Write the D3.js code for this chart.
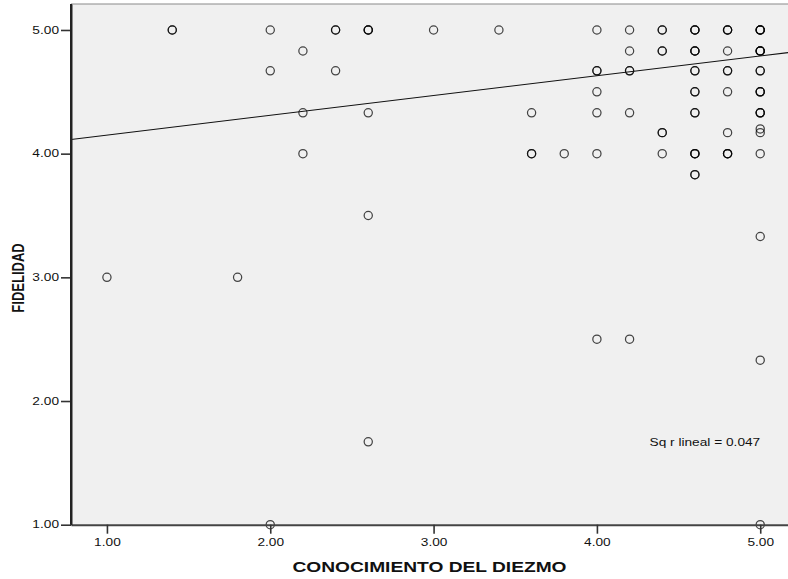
<!DOCTYPE html>
<html>
<head>
<meta charset="utf-8">
<script src="https://cdn.jsdelivr.net/npm/d3@7"></script>
<style>
  html, body { margin: 0; padding: 0; background: #ffffff; }
  svg { display: block; }
  text { font-family: "Liberation Sans", Arial, sans-serif; fill: #111; }
</style>
</head>
<body>
<svg id="chart" width="788" height="579"></svg>
<script>
// ---- data ----
// x: CONOCIMIENTO DEL DIEZMO, y: FIDELIDAD, count: overlapping cases at that point
const conocimiento = [1.0, 1.4, 1.8, 2.0, 2.0, 2.0, 2.2, 2.2, 2.2, 2.4, 2.4,
  2.6, 2.6, 2.6, 2.6, 3.0, 3.4, 3.6, 3.6, 3.8,
  4.0, 4.0, 4.0, 4.0, 4.0, 4.0,
  4.2, 4.2, 4.2, 4.2, 4.2,
  4.4, 4.4, 4.4, 4.4,
  4.6, 4.6, 4.6, 4.6, 4.6, 4.6, 4.6,
  4.8, 4.8, 4.8, 4.8, 4.8, 4.8,
  5.0, 5.0, 5.0, 5.0, 5.0, 5.0, 5.0, 5.0, 5.0, 5.0, 5.0, 5.0];
const fidelidad = [3.0, 5.0, 3.0, 5.0, 4.67, 1.0, 4.83, 4.33, 4.0, 5.0, 4.67,
  5.0, 4.33, 3.5, 1.67, 5.0, 5.0, 4.33, 4.0, 4.0,
  5.0, 4.67, 4.5, 4.33, 4.0, 2.5,
  5.0, 4.83, 4.67, 4.33, 2.5,
  5.0, 4.83, 4.17, 4.0,
  5.0, 4.83, 4.67, 4.5, 4.33, 4.0, 3.83,
  5.0, 4.83, 4.67, 4.5, 4.17, 4.0,
  5.0, 4.83, 4.67, 4.5, 4.33, 4.2, 4.17, 4.0, 3.33, 2.33, 1.0];
const casos = [1, 2, 1, 1, 1, 1, 1, 1, 1, 2, 1,
  3, 1, 1, 1, 1, 1, 1, 2, 1,
  1, 2, 1, 1, 1, 1,
  1, 1, 2, 1, 1,
  2, 2, 2, 1,
  3, 3, 2, 2, 2, 3, 2,
  3, 1, 2, 1, 1, 3,
  4, 4, 2, 3, 3, 1, 1, 1, 1, 1, 1];
const xTicks = [1, 2, 3, 4, 5];
const yTicks = [1, 2, 3, 4, 5];
const fitIntercept = 3.99;   // linear fit
const fitSlope = 0.16;
const r2Label = "Sq r lineal = 0.047";
const xTitle = "CONOCIMIENTO DEL DIEZMO";
const yTitle = "FIDELIDAD";

// ---- drawing ----
const svg = d3.select("#chart");
const plot = { left: 71, right: 788, top: 4, bottom: 524.7 };
const stretch = 1.37;   // source picture is stretched horizontally

const x = d3.scaleLinear().domain([0.78, 5.17]).range([plot.left, plot.right]);
const y = d3.scaleLinear().domain([1, 5.21]).range([plot.bottom, plot.top]);

// background
svg.append("rect")
  .attr("x", plot.left).attr("y", plot.top)
  .attr("width", plot.right - plot.left).attr("height", plot.bottom - plot.top)
  .attr("fill", "#f0f0f0");
// top frame line
svg.append("line")
  .attr("x1", plot.left).attr("x2", plot.right)
  .attr("y1", plot.top).attr("y2", plot.top)
  .attr("stroke", "#8a8a8a").attr("stroke-width", 1.2);

const clip = svg.append("clipPath").attr("id", "clip")
  .append("rect")
  .attr("x", plot.left).attr("y", plot.top)
  .attr("width", plot.right - plot.left).attr("height", plot.bottom - plot.top + 6);

// points
const pts = [];
conocimiento.forEach((cx, i) => {
  for (let k = 0; k < casos[i]; k++) pts.push({ x: cx, y: fidelidad[i] });
});
svg.append("g").attr("clip-path", "url(#clip)")
  .selectAll("circle").data(pts).join("circle")
  .attr("cx", d => x(d.x)).attr("cy", d => y(d.y))
  .attr("r", 4.1)
  .attr("fill", "none")
  .attr("stroke", "#000")
  .attr("stroke-opacity", 0.72)
  .attr("stroke-width", 1.25);

// regression line
const xd = x.domain();
svg.append("line").attr("clip-path", "url(#clip)")
  .attr("x1", x(xd[0])).attr("y1", y(fitIntercept + fitSlope * xd[0]))
  .attr("x2", x(xd[1])).attr("y2", y(fitIntercept + fitSlope * xd[1]))
  .attr("stroke", "#111").attr("stroke-width", 1.1);

// axes
const xAxis = svg.append("g")
  .attr("transform", `translate(0,${plot.bottom})`)
  .call(d3.axisBottom(x).tickValues(xTicks).tickFormat(d3.format(".2f")).tickSize(9).tickSizeOuter(0));
xAxis.select(".domain").attr("stroke", "#444").attr("stroke-width", 2);
xAxis.selectAll(".tick line").attr("stroke", "#333").attr("stroke-width", 1.6);
xAxis.selectAll(".tick text")
  .attr("y", 14.6).attr("dy", "0.71em")
  .attr("font-size", 10).attr("fill", "#111")
  .attr("transform", `scale(${stretch},1)`);

const yAxis = svg.append("g")
  .attr("transform", `translate(${plot.left},0)`)
  .call(d3.axisLeft(y).tickValues(yTicks).tickFormat(d3.format(".2f")).tickSize(10).tickSizeOuter(0));
yAxis.select(".domain").attr("stroke", "#222").attr("stroke-width", 2);
yAxis.selectAll(".tick line").attr("stroke", "#333").attr("stroke-width", 1.6);
yAxis.selectAll(".tick text")
  .attr("x", -12 / stretch)
  .attr("font-size", 10).attr("fill", "#111")
  .attr("transform", `scale(${stretch},1)`);
// extend left axis to top
svg.append("line")
  .attr("x1", plot.left).attr("x2", plot.left)
  .attr("y1", plot.top).attr("y2", plot.bottom)
  .attr("stroke", "#222").attr("stroke-width", 2);

// titles
svg.append("text")
  .attr("transform", `translate(${(plot.left + plot.right) / 2},572) scale(${stretch},1)`)
  .attr("text-anchor", "middle")
  .attr("font-size", 14).attr("font-weight", "bold")
  .text(xTitle);

svg.append("text")
  .attr("transform", `translate(24,278) scale(1.25,1) rotate(-90)`)
  .attr("text-anchor", "middle")
  .attr("font-size", 13).attr("font-weight", "bold")
  .text(yTitle);

// R² annotation
svg.append("text")
  .attr("transform", `translate(649.5,446) scale(${stretch},1)`)
  .attr("font-size", 10).attr("fill", "#111")
  .text(r2Label);
</script>
</body>
</html>
